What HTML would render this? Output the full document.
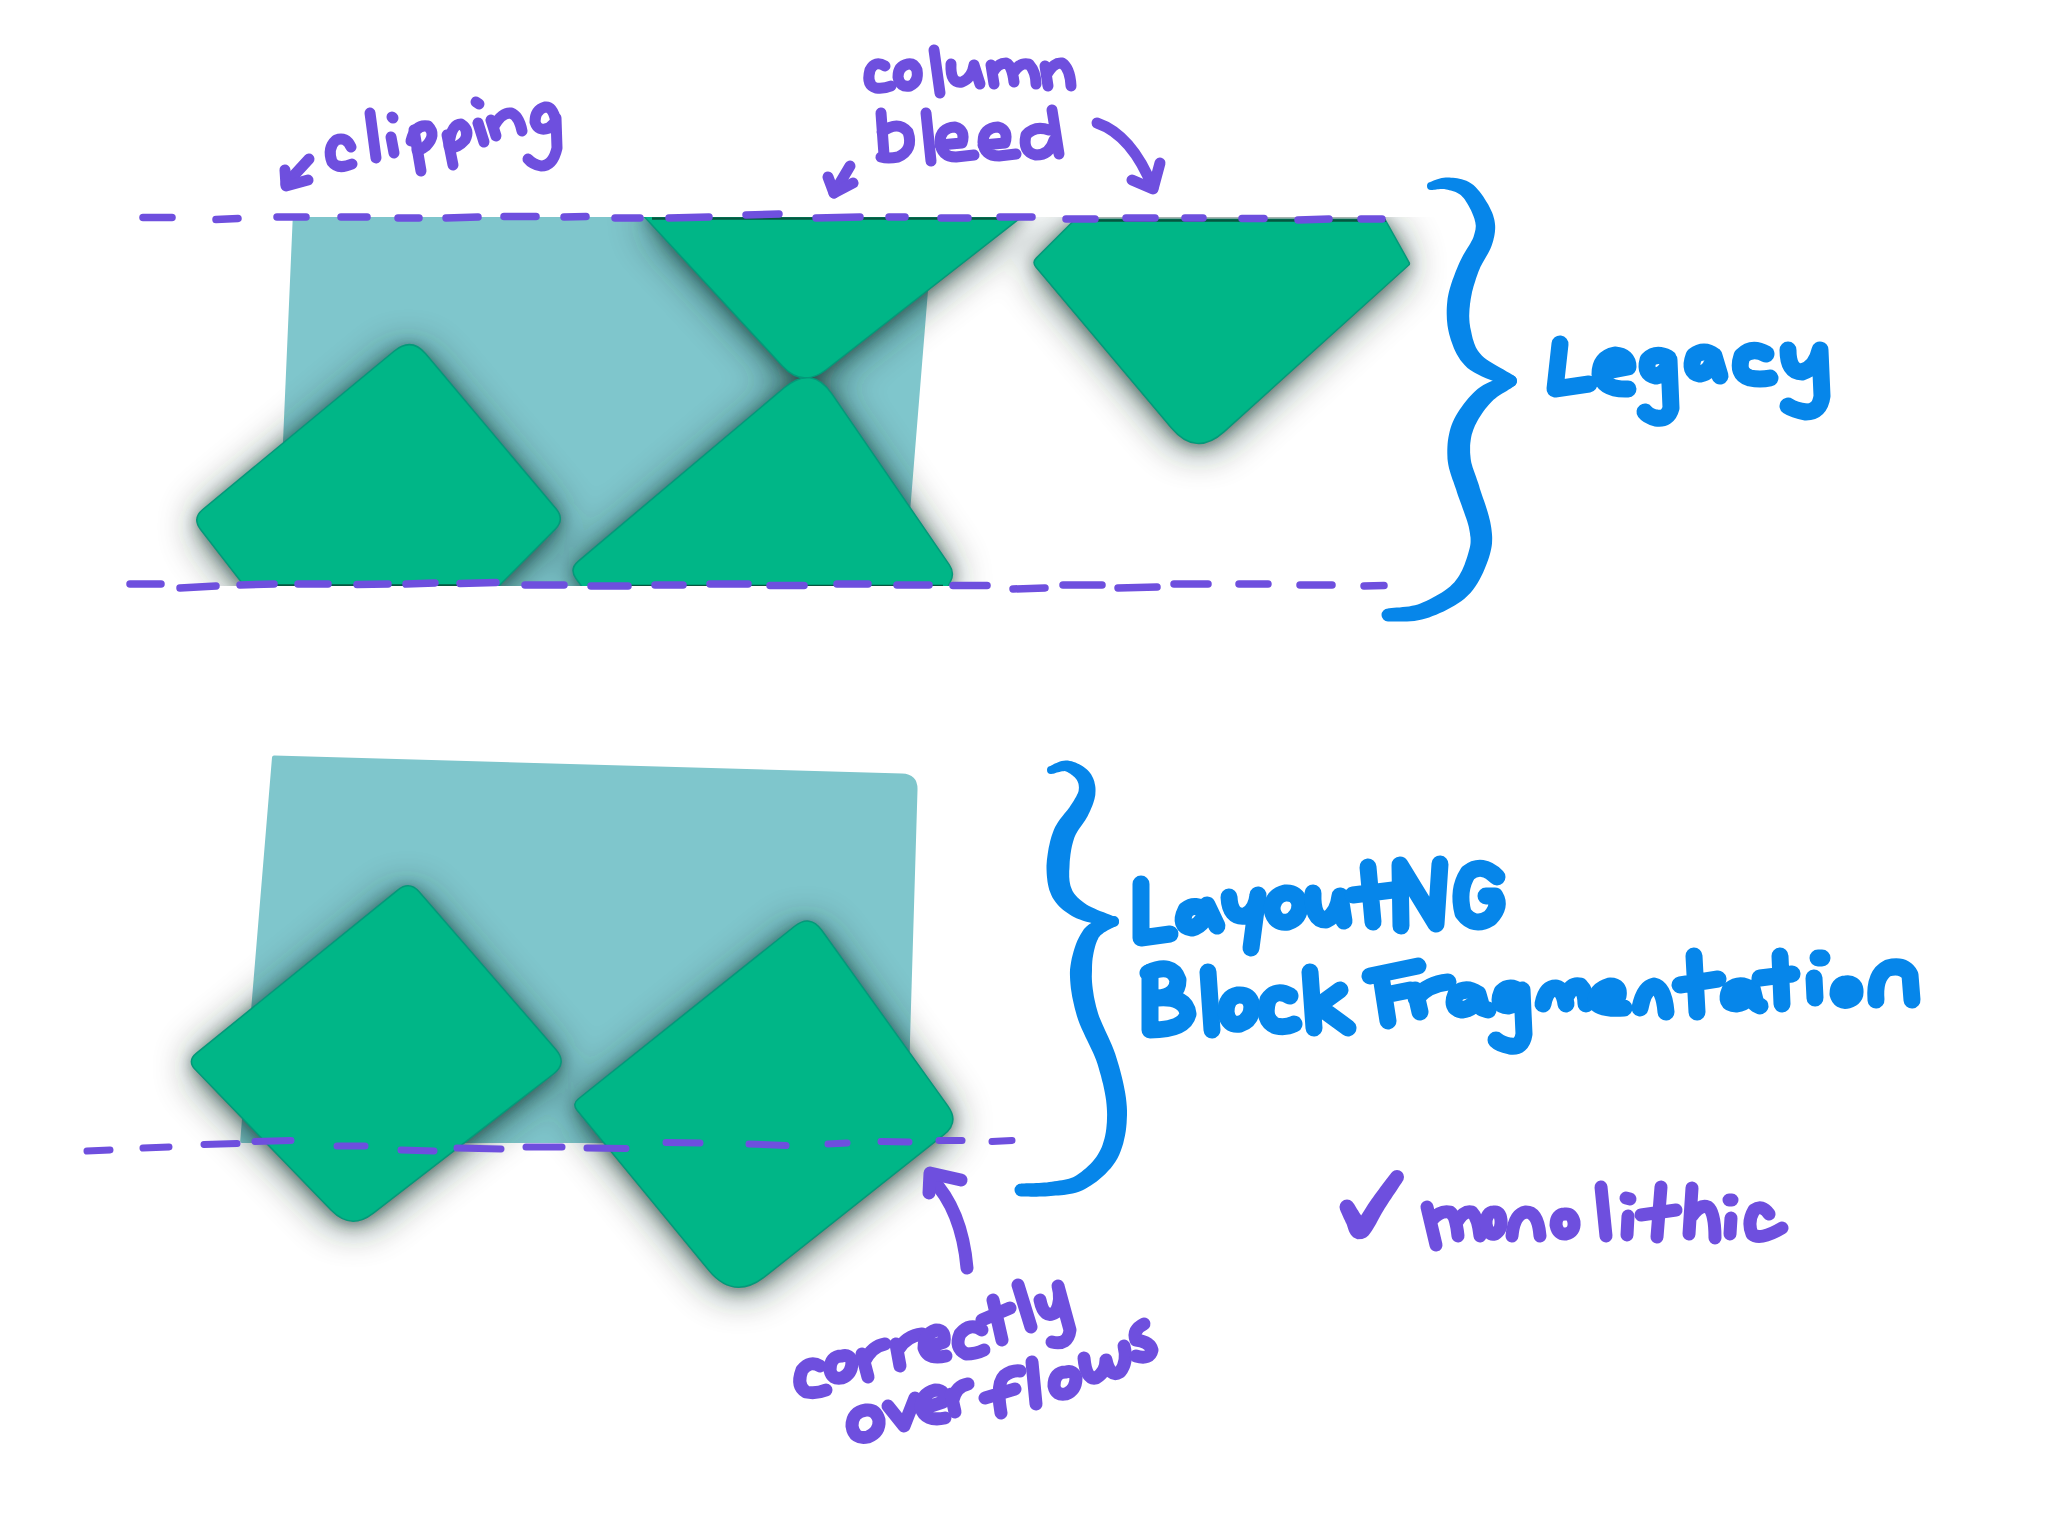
<!DOCTYPE html>
<html><head><meta charset="utf-8"><style>
html,body{margin:0;padding:0;background:#fff;}
body{width:2048px;height:1540px;overflow:hidden;font-family:"Liberation Sans",sans-serif;}
svg{display:block;}
</style></head><body>
<svg width="2048" height="1540" viewBox="0 0 2048 1540">
<defs><filter id="blur1" x="-30%" y="-30%" width="160%" height="160%"><feGaussianBlur stdDeviation="7"/><feOffset dy="2"/></filter><filter id="blur2" x="-40%" y="-40%" width="180%" height="180%"><feGaussianBlur stdDeviation="20"/><feOffset dy="5"/></filter></defs>
<path d="M292.7 219.0 Q292.8 217.0 294.8 217.0 L932.0 217.0 Q934.0 217.0 933.8 219.0 L904.2 584.0 Q904.0 586.0 902.0 586.0 L278.7 586.0 Q276.7 586.0 276.8 584.0 Z" fill="#7FC6CC"/>
<clipPath id="topclip"><rect x="0" y="217" width="2048" height="369"/></clipPath>
<g clip-path="url(#topclip)">
<g filter="url(#blur2)" fill="#0b2a24" opacity="0.7"><path d="M394.4 351.0 Q411.4 337.0 425.6 353.8 L556.0 508.8 Q565.0 519.5 555.1 529.4 L494.8 590.0 L247.5 590.0 L200.6 529.5 Q192.0 518.4 202.8 509.5 Z"/><path d="M640.0 212.0 L1028.0 212.0 L826.4 369.5 Q802.8 388.0 782.4 366.0 Z"/><path d="M784.3 387.8 Q811.8 364.6 832.2 394.3 L949.3 564.8 Q955.0 573.0 950.3 581.8 L945.0 592.0 L586.0 592.0 L576.1 578.7 Q569.0 569.0 578.2 561.3 Z"/><path d="M1075.0 219.5 L1385.0 219.5 L1409.0 262.3 Q1410.0 264.0 1408.5 265.3 L1224.2 431.6 Q1196.0 457.0 1171.5 427.9 L1035.9 266.9 Q1032.0 262.3 1036.3 258.1 Z"/></g><g filter="url(#blur1)" fill="#0b2a24" opacity="0.45"><path d="M394.4 351.0 Q411.4 337.0 425.6 353.8 L556.0 508.8 Q565.0 519.5 555.1 529.4 L494.8 590.0 L247.5 590.0 L200.6 529.5 Q192.0 518.4 202.8 509.5 Z"/><path d="M640.0 212.0 L1028.0 212.0 L826.4 369.5 Q802.8 388.0 782.4 366.0 Z"/><path d="M784.3 387.8 Q811.8 364.6 832.2 394.3 L949.3 564.8 Q955.0 573.0 950.3 581.8 L945.0 592.0 L586.0 592.0 L576.1 578.7 Q569.0 569.0 578.2 561.3 Z"/><path d="M1075.0 219.5 L1385.0 219.5 L1409.0 262.3 Q1410.0 264.0 1408.5 265.3 L1224.2 431.6 Q1196.0 457.0 1171.5 427.9 L1035.9 266.9 Q1032.0 262.3 1036.3 258.1 Z"/></g>
<g fill="#00B687" stroke="#04997a" stroke-width="1.5"><path d="M394.4 351.0 Q411.4 337.0 425.6 353.8 L556.0 508.8 Q565.0 519.5 555.1 529.4 L494.8 590.0 L247.5 590.0 L200.6 529.5 Q192.0 518.4 202.8 509.5 Z"/><path d="M640.0 212.0 L1028.0 212.0 L826.4 369.5 Q802.8 388.0 782.4 366.0 Z"/><path d="M784.3 387.8 Q811.8 364.6 832.2 394.3 L949.3 564.8 Q955.0 573.0 950.3 581.8 L945.0 592.0 L586.0 592.0 L576.1 578.7 Q569.0 569.0 578.2 561.3 Z"/><path d="M1075.0 219.5 L1385.0 219.5 L1409.0 262.3 Q1410.0 264.0 1408.5 265.3 L1224.2 431.6 Q1196.0 457.0 1171.5 427.9 L1035.9 266.9 Q1032.0 262.3 1036.3 258.1 Z"/></g>
<g stroke="#06563f" stroke-width="2.5"><line x1="652" y1="218.5" x2="1025" y2="218.5"/><line x1="1073" y1="220.5" x2="1386" y2="220.5"/><line x1="248" y1="585.5" x2="494" y2="585.5"/><line x1="590" y1="586" x2="943" y2="586"/></g>
</g>
<g stroke="#6E4FDE" stroke-width="7.5" stroke-linecap="round"><line x1="143.0" y1="217.5" x2="172.0" y2="217.5"/><line x1="216.0" y1="219.5" x2="238.0" y2="218.5"/><line x1="277.0" y1="217.0" x2="306.0" y2="217.0"/><line x1="341.0" y1="217.0" x2="367.0" y2="217.0"/><line x1="398.0" y1="218.0" x2="419.0" y2="218.0"/><line x1="446.0" y1="218.0" x2="478.0" y2="217.0"/><line x1="504.0" y1="216.5" x2="536.0" y2="216.5"/><line x1="564.0" y1="217.0" x2="586.0" y2="216.5"/><line x1="615.0" y1="218.0" x2="640.0" y2="218.0"/><line x1="669.0" y1="218.0" x2="709.0" y2="217.0"/><line x1="746.0" y1="215.0" x2="779.0" y2="214.0"/><line x1="816.0" y1="218.0" x2="860.0" y2="217.0"/><line x1="889.0" y1="217.0" x2="905.0" y2="217.0"/><line x1="941.0" y1="218.0" x2="968.0" y2="218.0"/><line x1="1000.0" y1="217.0" x2="1032.0" y2="217.0"/><line x1="1066.0" y1="219.0" x2="1095.0" y2="219.0"/><line x1="1126.0" y1="218.0" x2="1155.0" y2="218.0"/><line x1="1185.0" y1="218.0" x2="1203.0" y2="218.0"/><line x1="1242.0" y1="218.5" x2="1264.0" y2="218.5"/><line x1="1298.0" y1="220.0" x2="1329.0" y2="219.0"/><line x1="1361.0" y1="219.0" x2="1382.0" y2="219.0"/></g>
<g stroke="#6E4FDE" stroke-width="7.5" stroke-linecap="round"><line x1="130.0" y1="584.0" x2="161.0" y2="584.0"/><line x1="180.0" y1="588.0" x2="216.0" y2="586.0"/><line x1="240.0" y1="585.0" x2="274.0" y2="584.0"/><line x1="298.0" y1="584.0" x2="328.0" y2="584.0"/><line x1="357.0" y1="584.5" x2="388.0" y2="584.0"/><line x1="406.0" y1="584.0" x2="435.0" y2="583.0"/><line x1="460.0" y1="583.5" x2="496.0" y2="582.5"/><line x1="525.0" y1="585.0" x2="564.0" y2="585.0"/><line x1="591.0" y1="586.0" x2="628.0" y2="586.0"/><line x1="655.0" y1="585.0" x2="683.0" y2="585.0"/><line x1="710.0" y1="584.0" x2="748.0" y2="584.0"/><line x1="770.0" y1="585.5" x2="804.0" y2="585.5"/><line x1="837.0" y1="584.0" x2="868.0" y2="584.0"/><line x1="897.0" y1="585.0" x2="929.0" y2="585.0"/><line x1="953.0" y1="585.5" x2="987.0" y2="585.5"/><line x1="1013.0" y1="589.0" x2="1045.0" y2="588.0"/><line x1="1063.0" y1="585.0" x2="1102.0" y2="585.0"/><line x1="1118.0" y1="588.0" x2="1157.0" y2="587.0"/><line x1="1174.0" y1="584.0" x2="1208.0" y2="584.0"/><line x1="1239.0" y1="584.0" x2="1268.0" y2="584.0"/><line x1="1300.0" y1="585.0" x2="1332.0" y2="585.0"/><line x1="1364.0" y1="586.0" x2="1384.0" y2="585.5"/></g>
<path d="M272.0 757.5 Q272.2 755.5 274.2 755.6 L902.0 773.5 Q918.0 774.0 917.5 790.0 L910.0 1040.0 L908.0 1141.0 Q908.0 1143.0 906.0 1143.0 L242.0 1143.0 Q240.0 1143.0 240.2 1141.0 Z" fill="#7FC6CC"/>
<g filter="url(#blur2)" fill="#0b2a24" opacity="0.7"><path d="M397.8 890.1 Q409.5 880.7 419.3 892.0 L555.8 1049.4 Q567.6 1063.0 553.4 1074.0 L373.0 1213.3 Q350.8 1230.4 331.3 1210.3 L195.3 1069.6 Q187.0 1061.0 196.3 1053.4 Z"/><path d="M794.4 926.5 Q810.0 914.0 821.7 930.2 L947.9 1106.1 Q959.6 1122.3 943.9 1134.7 L765.4 1276.2 Q734.0 1301.0 708.6 1270.1 L577.1 1110.2 Q572.0 1104.0 578.3 1099.0 Z"/></g><g filter="url(#blur1)" fill="#0b2a24" opacity="0.45"><path d="M397.8 890.1 Q409.5 880.7 419.3 892.0 L555.8 1049.4 Q567.6 1063.0 553.4 1074.0 L373.0 1213.3 Q350.8 1230.4 331.3 1210.3 L195.3 1069.6 Q187.0 1061.0 196.3 1053.4 Z"/><path d="M794.4 926.5 Q810.0 914.0 821.7 930.2 L947.9 1106.1 Q959.6 1122.3 943.9 1134.7 L765.4 1276.2 Q734.0 1301.0 708.6 1270.1 L577.1 1110.2 Q572.0 1104.0 578.3 1099.0 Z"/></g>
<g fill="#00B687" stroke="#04997a" stroke-width="1.5"><path d="M397.8 890.1 Q409.5 880.7 419.3 892.0 L555.8 1049.4 Q567.6 1063.0 553.4 1074.0 L373.0 1213.3 Q350.8 1230.4 331.3 1210.3 L195.3 1069.6 Q187.0 1061.0 196.3 1053.4 Z"/><path d="M794.4 926.5 Q810.0 914.0 821.7 930.2 L947.9 1106.1 Q959.6 1122.3 943.9 1134.7 L765.4 1276.2 Q734.0 1301.0 708.6 1270.1 L577.1 1110.2 Q572.0 1104.0 578.3 1099.0 Z"/></g>
<g stroke="#6E4FDE" stroke-width="7" stroke-linecap="round"><line x1="87.0" y1="1151.0" x2="110.0" y2="1150.0"/><line x1="143.0" y1="1148.0" x2="169.0" y2="1147.0"/><line x1="204.0" y1="1144.5" x2="237.0" y2="1143.5"/><line x1="255.0" y1="1141.5" x2="291.0" y2="1140.5"/><line x1="337.0" y1="1146.0" x2="365.0" y2="1146.0"/><line x1="401.0" y1="1150.0" x2="434.0" y2="1151.0"/><line x1="457.0" y1="1148.0" x2="501.0" y2="1149.0"/><line x1="526.0" y1="1147.0" x2="562.0" y2="1147.0"/><line x1="587.0" y1="1148.0" x2="626.0" y2="1148.5"/><line x1="666.0" y1="1142.5" x2="700.0" y2="1143.0"/><line x1="749.0" y1="1144.0" x2="786.0" y2="1145.5"/><line x1="828.0" y1="1144.0" x2="847.0" y2="1143.0"/><line x1="881.0" y1="1141.5" x2="909.0" y2="1142.0"/><line x1="939.0" y1="1140.5" x2="962.0" y2="1140.5"/><line x1="992.0" y1="1141.5" x2="1012.0" y2="1140.5"/></g>
<g fill="none" stroke="#6E4FDE" stroke-width="11" stroke-linecap="round" stroke-linejoin="round"><path d="M309 159 L286 184"/><path d="M285 170 L286 186 L308 180"/><path d="M351 147 Q346 136 336 140 Q327 148 332 162 Q338 170 352 164"/><path d="M370 113 L376 158"/><path d="M392 117 L393 118"/><path d="M391 137 L394 153"/><path d="M414 130 L421 171"/><path d="M411 141 Q415 124 428 126 Q437 135 426 146 Q421 150 417 150"/><path d="M447 135 L453 165"/><path d="M449 146 Q451 124 461 124 Q470 130 465 140 Q458 148 450 148"/><path d="M476 102 L479 104"/><path d="M478 123 L484 142"/><path d="M491 120 L496 136"/><path d="M494 126 Q502 112 511 113 Q519 116 522 131"/><path d="M556 122 Q553 106 545 107 Q535 110 535 122 Q538 132 549 128 Q556 122 556 118 L557 148 Q553 166 541 166 Q532 164 528 159"/></g>
<g fill="none" stroke="#6E4FDE" stroke-width="11" stroke-linecap="round" stroke-linejoin="round"><path d="M885 66 Q875 60 870 70 Q866 85 876 88 Q884 89 891 86"/><path d="M908 64 Q898 66 898 77 Q900 88 910 86 Q919 82 917 70 Q914 63 908 64"/><path d="M934 50 L940 93"/><path d="M951 64 Q950 84 962 82 Q972 78 974 65 L980 84"/><path d="M991 65 L994 84 M993 72 Q998 63 1006 63 Q1012 65 1014 82 M1014 72 Q1020 62 1029 64 Q1036 72 1036 84"/><path d="M1045 66 L1048 86 M1047 74 Q1054 62 1062 63 Q1070 68 1071 86"/><path d="M881 113 L884 155 M882 132 Q898 120 908 132 Q914 150 898 157 Q888 159 881 157"/><path d="M926 113 L931 161"/><path d="M940 145 L962 143 Q966 130 955 127 Q940 128 940 142 Q941 157 956 157 L974 155"/><path d="M983 145 L1005 143 Q1009 130 998 127 Q983 128 983 142 Q984 156 999 156 L1016 154"/><path d="M1049 130 Q1035 125 1026 135 Q1022 152 1036 155 Q1050 155 1054 140 M1052 110 L1059 154"/><path d="M850 166 L834 193"/><path d="M828 177 L834 193 L853 183"/><path d="M1097 123 Q1132 135 1153 188"/><path d="M1132 180 L1153 189 L1160 163"/></g>
<g fill="none" stroke="#0686EA" stroke-width="17" stroke-linecap="round" stroke-linejoin="round"><path d="M1560 344 L1555 389 L1589 384"/><path d="M1602 372 L1628 367 Q1628 356 1615 355 Q1600 358 1600 374 Q1604 390 1628 389"/><path d="M1668 358 Q1656 352 1648 360 Q1644 374 1656 376 Q1668 374 1669 360 L1671 408 Q1668 420 1656 418 Q1648 416 1645 412"/><path d="M1714 356 Q1704 348 1694 356 Q1688 372 1700 374 Q1712 372 1714 356 L1720 376"/><path d="M1766 354 Q1752 346 1742 356 Q1736 374 1750 378 Q1760 380 1770 378"/><path d="M1788 350 Q1788 372 1802 372 Q1816 368 1820 350 L1822 396 Q1820 412 1806 412 Q1794 410 1788 406"/></g>
<path d="M1431.8 189.9 L1432.7 189.9 L1433.8 189.8 L1435.0 189.7 L1436.2 189.5 L1437.5 189.3 L1438.8 189.2 L1440.2 189.0 L1441.5 189.0 L1442.8 189.0 L1444.1 189.0 L1445.2 189.2 L1446.3 189.5 L1447.8 189.8 L1449.3 190.2 L1450.9 190.6 L1452.5 191.1 L1454.1 191.6 L1455.6 192.1 L1457.0 192.8 L1458.3 193.4 L1459.6 194.2 L1460.7 195.0 L1461.7 195.9 L1462.6 196.9 L1463.6 198.1 L1464.8 199.6 L1466.0 201.5 L1467.3 203.5 L1468.6 205.7 L1469.8 208.0 L1471.0 210.3 L1472.1 212.7 L1473.0 215.0 L1473.8 217.1 L1474.5 219.1 L1474.9 220.8 L1475.3 222.3 L1475.5 223.7 L1475.7 224.9 L1475.8 226.1 L1475.7 227.2 L1475.6 228.3 L1475.5 229.5 L1475.2 230.7 L1474.9 232.1 L1474.5 233.6 L1474.0 235.3 L1473.5 236.9 L1472.9 238.4 L1472.2 239.9 L1471.3 241.6 L1470.3 243.4 L1469.1 245.4 L1467.8 247.6 L1466.4 249.8 L1464.9 252.2 L1463.4 254.7 L1462.0 257.4 L1460.6 260.2 L1459.3 263.0 L1458.1 265.7 L1457.0 268.4 L1455.9 271.1 L1454.8 274.0 L1453.7 276.9 L1452.6 279.8 L1451.6 282.8 L1450.6 285.9 L1449.7 289.0 L1448.9 292.1 L1448.2 295.3 L1447.6 298.4 L1447.3 301.4 L1447.0 304.4 L1446.8 307.4 L1446.7 310.4 L1446.7 313.5 L1446.8 316.5 L1446.9 319.6 L1447.2 322.6 L1447.5 325.6 L1448.0 328.6 L1448.6 331.6 L1449.3 334.5 L1450.1 337.3 L1450.9 340.0 L1451.9 342.7 L1452.9 345.6 L1454.0 348.4 L1455.3 351.3 L1456.8 354.2 L1458.5 357.1 L1460.3 359.9 L1462.4 362.6 L1464.8 365.3 L1467.5 367.9 L1470.7 370.3 L1474.3 372.5 L1478.1 374.5 L1482.0 376.4 L1486.0 378.2 L1490.0 379.8 L1493.9 381.3 L1497.6 382.7 L1501.0 383.9 L1504.0 384.9 L1506.4 385.7 L1508.3 386.4 L1513.7 375.6 L1511.9 374.4 L1509.5 372.9 L1506.6 371.4 L1503.5 369.6 L1500.2 367.8 L1496.7 365.8 L1493.3 363.8 L1490.0 361.7 L1486.9 359.7 L1484.2 357.7 L1482.0 355.8 L1480.5 354.1 L1479.2 352.5 L1477.9 350.8 L1476.8 349.0 L1475.8 347.2 L1475.0 345.2 L1474.2 343.2 L1473.5 341.1 L1472.8 338.9 L1472.2 336.6 L1471.7 334.3 L1471.2 331.8 L1470.7 329.5 L1470.2 327.2 L1469.9 325.1 L1469.6 322.9 L1469.4 320.6 L1469.3 318.3 L1469.2 316.0 L1469.3 313.6 L1469.4 311.3 L1469.5 308.9 L1469.8 306.4 L1470.0 304.0 L1470.4 301.6 L1470.7 299.3 L1471.1 296.9 L1471.6 294.4 L1472.1 291.8 L1472.8 289.2 L1473.5 286.5 L1474.3 283.9 L1475.2 281.2 L1476.0 278.6 L1476.9 276.0 L1477.8 273.4 L1478.7 271.0 L1479.6 268.9 L1480.5 266.8 L1481.6 264.7 L1482.8 262.5 L1484.1 260.3 L1485.4 258.1 L1486.7 255.8 L1488.0 253.4 L1489.3 250.9 L1490.5 248.4 L1491.6 245.7 L1492.5 243.1 L1493.2 240.7 L1493.7 238.6 L1494.2 236.4 L1494.6 234.2 L1494.9 232.0 L1495.1 229.7 L1495.2 227.4 L1495.1 225.0 L1494.8 222.6 L1494.4 220.1 L1493.8 217.7 L1493.1 215.2 L1492.1 212.6 L1490.9 210.0 L1489.6 207.3 L1488.2 204.6 L1486.6 201.9 L1484.9 199.2 L1483.2 196.5 L1481.4 194.0 L1479.5 191.5 L1477.5 189.2 L1475.5 187.1 L1473.4 185.1 L1471.2 183.4 L1468.8 182.0 L1466.4 180.8 L1464.0 179.9 L1461.7 179.2 L1459.4 178.7 L1457.2 178.3 L1455.1 178.0 L1453.1 177.8 L1451.2 177.7 L1449.4 177.6 L1447.7 177.5 L1445.7 177.5 L1443.7 177.7 L1441.7 178.0 L1439.9 178.4 L1438.2 178.9 L1436.6 179.4 L1435.1 179.9 L1433.7 180.5 L1432.6 181.0 L1431.6 181.4 L1430.8 181.8 L1430.2 182.1 Z M1427.0 186.0 a4.0 4.0 0 1 0 8.0 0 a4.0 4.0 0 1 0 -8.0 0 M1505.0 381.0 a6.0 6.0 0 1 0 12.0 0 a6.0 6.0 0 1 0 -12.0 0" fill="#0686EA" fill-rule="nonzero"/>
<path d="M1508.3 375.7 L1506.9 376.0 L1505.3 376.5 L1503.2 377.1 L1500.8 377.8 L1498.2 378.7 L1495.4 379.6 L1492.5 380.8 L1489.5 382.1 L1486.4 383.5 L1483.4 385.1 L1480.4 387.0 L1477.6 389.0 L1475.1 391.2 L1472.8 393.5 L1470.4 396.0 L1468.1 398.6 L1465.9 401.2 L1463.7 404.0 L1461.6 406.9 L1459.6 409.8 L1457.7 412.8 L1455.9 415.8 L1454.3 418.8 L1452.8 421.9 L1451.6 425.0 L1450.6 428.1 L1449.7 431.3 L1449.0 434.4 L1448.4 437.6 L1447.9 440.7 L1447.6 443.8 L1447.4 446.9 L1447.3 450.0 L1447.3 453.0 L1447.4 456.0 L1447.5 459.0 L1447.9 462.2 L1448.4 465.3 L1449.1 468.4 L1449.9 471.3 L1450.7 474.1 L1451.6 476.8 L1452.5 479.5 L1453.5 482.1 L1454.4 484.7 L1455.3 487.2 L1456.2 489.8 L1457.0 492.5 L1458.0 495.5 L1459.2 498.7 L1460.4 502.0 L1461.6 505.3 L1462.8 508.7 L1464.0 511.9 L1465.1 515.2 L1466.2 518.3 L1467.2 521.3 L1468.0 524.0 L1468.7 526.6 L1469.2 529.0 L1469.6 531.3 L1470.0 533.5 L1470.2 535.5 L1470.5 537.3 L1470.6 538.9 L1470.6 540.5 L1470.6 542.0 L1470.5 543.5 L1470.3 545.1 L1470.0 546.8 L1469.5 548.8 L1468.9 551.0 L1468.2 553.5 L1467.4 556.2 L1466.5 559.0 L1465.5 561.8 L1464.5 564.7 L1463.3 567.6 L1462.0 570.4 L1460.6 573.1 L1459.1 575.7 L1457.6 578.1 L1455.9 580.3 L1454.2 582.4 L1452.3 584.3 L1450.1 586.4 L1447.5 588.4 L1444.8 590.4 L1441.9 592.4 L1438.8 594.3 L1435.7 596.1 L1432.5 597.8 L1429.3 599.4 L1426.2 600.9 L1423.2 602.3 L1420.4 603.4 L1417.8 604.4 L1415.0 605.2 L1412.0 605.8 L1409.0 606.4 L1405.8 606.8 L1402.7 607.1 L1399.7 607.4 L1396.7 607.6 L1394.0 607.8 L1391.5 608.0 L1389.3 608.3 L1387.5 608.5 L1388.5 621.5 L1390.1 621.5 L1392.0 621.5 L1394.4 621.6 L1397.2 621.6 L1400.2 621.6 L1403.6 621.6 L1407.0 621.5 L1410.7 621.3 L1414.4 620.9 L1418.2 620.3 L1421.9 619.6 L1425.6 618.6 L1429.1 617.4 L1432.6 616.1 L1436.2 614.7 L1439.9 613.1 L1443.6 611.4 L1447.3 609.6 L1451.0 607.6 L1454.6 605.5 L1458.1 603.3 L1461.5 600.9 L1464.7 598.4 L1467.8 595.6 L1470.6 592.7 L1473.2 589.5 L1475.5 586.3 L1477.6 582.9 L1479.6 579.5 L1481.4 576.1 L1483.0 572.7 L1484.5 569.3 L1485.8 566.0 L1487.0 562.9 L1488.1 559.9 L1489.1 557.0 L1489.9 554.2 L1490.6 551.5 L1491.2 548.8 L1491.7 546.1 L1492.0 543.5 L1492.1 540.9 L1492.2 538.3 L1492.1 535.8 L1491.9 533.2 L1491.6 530.6 L1491.3 527.9 L1490.8 525.0 L1490.2 521.8 L1489.4 518.4 L1488.5 515.0 L1487.5 511.5 L1486.4 508.0 L1485.3 504.6 L1484.1 501.1 L1482.9 497.8 L1481.8 494.5 L1480.8 491.4 L1479.8 488.4 L1479.0 485.5 L1478.0 482.6 L1477.0 479.7 L1476.1 476.9 L1475.1 474.3 L1474.2 471.8 L1473.4 469.4 L1472.6 467.2 L1472.0 465.0 L1471.4 462.9 L1471.0 461.0 L1470.7 459.0 L1470.5 457.0 L1470.3 454.8 L1470.1 452.4 L1470.1 450.1 L1470.1 447.7 L1470.1 445.4 L1470.3 443.2 L1470.6 440.9 L1470.9 438.7 L1471.3 436.5 L1471.8 434.3 L1472.5 432.2 L1473.2 430.1 L1474.0 427.9 L1475.0 425.6 L1476.2 423.3 L1477.5 420.8 L1478.9 418.3 L1480.4 415.9 L1482.0 413.4 L1483.7 411.1 L1485.4 408.8 L1487.1 406.7 L1488.8 404.7 L1490.4 403.0 L1491.8 401.4 L1493.5 399.8 L1495.5 398.2 L1497.6 396.6 L1499.9 395.1 L1502.2 393.6 L1504.5 392.2 L1506.7 390.9 L1508.8 389.6 L1510.7 388.5 L1512.4 387.3 L1513.7 386.3 Z M1505.0 381.0 a6.0 6.0 0 1 0 12.0 0 a6.0 6.0 0 1 0 -12.0 0 M1381.5 615.0 a6.5 6.5 0 1 0 13.0 0 a6.5 6.5 0 1 0 -13.0 0" fill="#0686EA" fill-rule="nonzero"/>
<path d="M1052.2 773.8 L1053.1 773.7 L1054.3 773.4 L1055.5 773.0 L1056.8 772.6 L1058.2 772.2 L1059.5 771.9 L1060.9 771.5 L1062.3 771.3 L1063.5 771.2 L1064.6 771.1 L1065.4 771.2 L1066.1 771.4 L1066.8 771.8 L1067.8 772.3 L1068.9 772.9 L1070.0 773.6 L1071.2 774.4 L1072.3 775.3 L1073.4 776.2 L1074.4 777.1 L1075.3 778.1 L1076.1 779.0 L1076.7 779.8 L1077.1 780.6 L1077.5 781.3 L1077.8 782.0 L1078.1 782.8 L1078.4 783.6 L1078.6 784.5 L1078.7 785.3 L1078.8 786.2 L1078.9 787.2 L1078.9 788.1 L1078.8 789.1 L1078.7 790.1 L1078.6 791.0 L1078.3 791.9 L1078.0 792.8 L1077.6 793.8 L1077.0 794.8 L1076.5 796.0 L1075.8 797.2 L1075.0 798.5 L1074.2 799.9 L1073.3 801.4 L1072.3 802.9 L1071.3 804.5 L1070.3 806.0 L1069.4 807.4 L1068.4 808.7 L1067.3 810.2 L1066.0 811.8 L1064.5 813.5 L1063.0 815.4 L1061.4 817.4 L1059.8 819.5 L1058.1 821.9 L1056.6 824.4 L1055.1 827.1 L1053.8 830.0 L1052.7 832.9 L1051.7 835.7 L1050.9 838.6 L1050.1 841.6 L1049.4 844.7 L1048.7 847.7 L1048.2 850.8 L1047.7 853.9 L1047.3 856.9 L1046.9 859.9 L1046.7 862.8 L1046.5 865.6 L1046.5 868.3 L1046.6 870.9 L1046.7 873.6 L1046.9 876.3 L1047.2 879.0 L1047.5 881.7 L1048.0 884.4 L1048.6 887.2 L1049.3 889.9 L1050.3 892.5 L1051.4 895.2 L1052.6 897.7 L1054.1 900.1 L1055.7 902.3 L1057.5 904.4 L1059.3 906.4 L1061.2 908.2 L1063.2 910.0 L1065.3 911.6 L1067.5 913.1 L1069.7 914.6 L1072.0 915.9 L1074.4 917.2 L1077.0 918.5 L1079.9 919.6 L1083.1 920.7 L1086.4 921.7 L1089.9 922.5 L1093.3 923.4 L1096.8 924.1 L1100.1 924.8 L1103.3 925.3 L1106.2 925.8 L1108.7 926.3 L1110.9 926.6 L1112.5 926.8 L1115.5 917.2 L1113.9 916.4 L1111.8 915.5 L1109.3 914.5 L1106.6 913.5 L1103.7 912.3 L1100.6 911.2 L1097.5 909.9 L1094.5 908.6 L1091.6 907.3 L1089.0 906.0 L1086.8 904.8 L1085.0 903.5 L1083.3 902.3 L1081.7 901.1 L1080.1 899.8 L1078.7 898.6 L1077.3 897.3 L1076.2 896.0 L1075.1 894.8 L1074.1 893.5 L1073.3 892.2 L1072.5 890.9 L1071.9 889.6 L1071.4 888.3 L1070.9 887.0 L1070.4 885.6 L1070.1 884.1 L1069.8 882.6 L1069.5 880.8 L1069.4 879.0 L1069.2 877.1 L1069.2 875.1 L1069.2 873.0 L1069.2 870.9 L1069.4 868.7 L1069.5 866.4 L1069.6 864.2 L1069.7 861.8 L1069.9 859.4 L1070.2 856.9 L1070.5 854.3 L1070.9 851.8 L1071.3 849.2 L1071.8 846.7 L1072.4 844.3 L1073.0 842.0 L1073.6 839.9 L1074.2 838.0 L1074.8 836.4 L1075.6 834.8 L1076.4 833.2 L1077.4 831.5 L1078.5 829.8 L1079.7 828.0 L1081.0 826.2 L1082.4 824.3 L1083.8 822.3 L1085.2 820.3 L1086.5 818.1 L1087.7 816.0 L1088.6 814.0 L1089.5 812.2 L1090.3 810.4 L1091.1 808.6 L1091.9 806.8 L1092.6 804.9 L1093.3 803.0 L1093.9 801.1 L1094.5 799.1 L1094.9 797.1 L1095.3 795.1 L1095.4 793.0 L1095.5 791.0 L1095.5 789.1 L1095.4 787.2 L1095.1 785.3 L1094.7 783.4 L1094.3 781.5 L1093.7 779.7 L1093.0 777.9 L1092.1 776.2 L1091.2 774.6 L1090.1 773.0 L1088.9 771.4 L1087.5 770.0 L1086.0 768.7 L1084.4 767.4 L1082.7 766.3 L1081.0 765.2 L1079.2 764.2 L1077.4 763.4 L1075.5 762.6 L1073.7 761.9 L1071.8 761.3 L1069.9 760.9 L1067.9 760.6 L1065.8 760.5 L1063.7 760.7 L1061.7 761.1 L1059.9 761.6 L1058.1 762.2 L1056.5 762.9 L1054.9 763.6 L1053.5 764.3 L1052.3 764.9 L1051.2 765.4 L1050.4 765.9 L1049.8 766.2 Z M1047.0 770.0 a4.0 4.0 0 1 0 8.0 0 a4.0 4.0 0 1 0 -8.0 0 M1109.0 922.0 a5.0 5.0 0 1 0 10.0 0 a5.0 5.0 0 1 0 -10.0 0" fill="#0686EA" fill-rule="nonzero"/>
<path d="M1111.8 916.5 L1110.7 916.7 L1109.4 916.9 L1107.6 917.3 L1105.4 917.7 L1103.0 918.3 L1100.5 919.1 L1097.7 920.0 L1094.9 921.1 L1092.1 922.5 L1089.2 924.3 L1086.5 926.5 L1084.0 929.1 L1082.1 931.9 L1080.4 934.7 L1078.8 937.7 L1077.3 940.8 L1076.0 944.1 L1074.8 947.6 L1073.7 951.1 L1072.7 954.7 L1071.8 958.3 L1071.1 962.0 L1070.5 965.7 L1070.0 969.4 L1069.9 973.2 L1070.0 976.9 L1070.2 980.7 L1070.5 984.6 L1070.9 988.4 L1071.5 992.3 L1072.1 996.2 L1072.9 1000.1 L1073.8 1004.0 L1074.7 1008.0 L1075.8 1011.9 L1076.9 1016.0 L1078.3 1020.2 L1079.9 1024.5 L1081.7 1028.7 L1083.6 1032.8 L1085.5 1036.9 L1087.5 1041.0 L1089.4 1044.9 L1091.3 1048.9 L1093.1 1052.8 L1094.7 1056.6 L1096.2 1060.3 L1097.5 1064.0 L1098.7 1068.0 L1099.8 1072.0 L1101.0 1076.1 L1102.0 1080.2 L1103.1 1084.3 L1104.0 1088.4 L1104.8 1092.4 L1105.5 1096.4 L1106.1 1100.3 L1106.5 1104.1 L1106.8 1107.7 L1107.0 1111.3 L1107.1 1114.8 L1107.0 1118.4 L1106.9 1121.9 L1106.6 1125.4 L1106.3 1128.8 L1105.8 1132.2 L1105.2 1135.4 L1104.5 1138.6 L1103.6 1141.6 L1102.7 1144.5 L1101.7 1147.2 L1100.5 1149.7 L1099.3 1152.1 L1097.9 1154.5 L1096.3 1156.9 L1094.5 1159.3 L1092.5 1161.7 L1090.4 1163.9 L1088.2 1166.1 L1085.9 1168.2 L1083.6 1170.1 L1081.3 1172.0 L1079.1 1173.6 L1077.0 1175.1 L1075.0 1176.2 L1073.1 1177.2 L1071.0 1178.0 L1068.9 1178.7 L1066.7 1179.3 L1064.4 1179.8 L1061.9 1180.2 L1059.5 1180.6 L1056.9 1181.0 L1054.4 1181.3 L1051.7 1181.7 L1049.2 1182.0 L1046.7 1182.4 L1044.2 1182.6 L1041.6 1182.8 L1038.9 1183.0 L1036.2 1183.1 L1033.5 1183.2 L1030.9 1183.2 L1028.4 1183.3 L1026.2 1183.3 L1024.1 1183.4 L1022.3 1183.4 L1020.9 1183.5 L1021.1 1196.5 L1022.5 1196.5 L1024.1 1196.5 L1026.2 1196.6 L1028.4 1196.6 L1031.0 1196.7 L1033.6 1196.7 L1036.5 1196.7 L1039.4 1196.6 L1042.3 1196.6 L1045.2 1196.4 L1048.1 1196.2 L1050.8 1196.0 L1053.3 1195.7 L1055.8 1195.6 L1058.4 1195.4 L1061.1 1195.2 L1063.9 1194.9 L1066.8 1194.6 L1069.7 1194.1 L1072.7 1193.5 L1075.8 1192.7 L1078.9 1191.7 L1082.0 1190.5 L1085.0 1188.9 L1087.9 1187.3 L1090.8 1185.5 L1093.7 1183.5 L1096.7 1181.4 L1099.6 1179.1 L1102.5 1176.6 L1105.3 1173.9 L1108.0 1171.1 L1110.7 1168.2 L1113.1 1165.1 L1115.4 1161.8 L1117.5 1158.3 L1119.2 1154.8 L1120.7 1151.1 L1122.0 1147.3 L1123.2 1143.5 L1124.1 1139.6 L1125.0 1135.6 L1125.7 1131.5 L1126.2 1127.4 L1126.6 1123.3 L1126.8 1119.1 L1127.0 1115.0 L1127.0 1110.7 L1126.8 1106.4 L1126.4 1102.0 L1125.9 1097.6 L1125.2 1093.1 L1124.4 1088.7 L1123.5 1084.2 L1122.5 1079.8 L1121.4 1075.3 L1120.3 1070.9 L1119.1 1066.6 L1117.8 1062.3 L1116.5 1058.0 L1115.1 1053.5 L1113.4 1049.1 L1111.7 1044.7 L1109.8 1040.5 L1107.9 1036.3 L1106.0 1032.2 L1104.2 1028.2 L1102.4 1024.3 L1100.8 1020.5 L1099.3 1016.9 L1098.1 1013.4 L1097.1 1010.0 L1096.1 1006.5 L1095.3 1003.0 L1094.5 999.5 L1093.8 996.0 L1093.3 992.6 L1092.8 989.2 L1092.4 985.9 L1092.1 982.7 L1091.9 979.5 L1091.8 976.5 L1091.9 973.5 L1092.0 970.6 L1092.0 967.6 L1092.1 964.6 L1092.3 961.6 L1092.6 958.6 L1093.1 955.6 L1093.6 952.7 L1094.2 949.9 L1094.9 947.2 L1095.6 944.7 L1096.4 942.5 L1097.2 940.5 L1098.0 938.9 L1098.6 937.6 L1099.5 936.4 L1100.7 935.1 L1102.2 933.9 L1103.9 932.6 L1105.8 931.4 L1107.7 930.3 L1109.7 929.3 L1111.6 928.3 L1113.3 927.4 L1114.9 926.4 L1116.2 925.5 Z M1109.0 921.0 a5.0 5.0 0 1 0 10.0 0 a5.0 5.0 0 1 0 -10.0 0 M1014.5 1190.0 a6.5 6.5 0 1 0 13.0 0 a6.5 6.5 0 1 0 -13.0 0" fill="#0686EA" fill-rule="nonzero"/>
<g fill="none" stroke="#0686EA" stroke-width="17" stroke-linecap="round" stroke-linejoin="round"><path d="M1141 884 L1141 938 L1170 934"/><path d="M1205 912 Q1196 902 1186 910 Q1178 926 1192 928 Q1206 924 1207 905 L1217 926"/><path d="M1229 897 Q1230 918 1245 916 Q1256 912 1258 895 L1251 948"/><path d="M1285 893 Q1272 896 1272 910 Q1275 924 1288 922 Q1300 918 1300 904 Q1297 892 1285 893"/><path d="M1313 893 Q1312 920 1326 920 Q1338 914 1340 896 L1344 921"/><path d="M1368 867 L1373 922 M1353 895 L1393 890"/><path d="M1401 926 L1400 865 L1436 924 L1440 864"/><path d="M1497 877 Q1482 862 1468 873 Q1457 890 1463 913 Q1474 928 1490 918 Q1501 906 1495 896 L1486 896"/></g>
<g fill="none" stroke="#0686EA" stroke-width="17" stroke-linecap="round" stroke-linejoin="round"><path d="M1150 972 L1150 1030 M1148 973 Q1172 962 1178 980 Q1178 996 1158 998 Q1186 996 1188 1014 Q1184 1030 1150 1030"/><path d="M1208 972 L1212 1030"/><path d="M1238 995 Q1226 997 1226 1012 Q1228 1026 1240 1024 Q1252 1020 1252 1006 Q1250 994 1238 995"/><path d="M1290 996 Q1276 988 1268 1000 Q1262 1020 1276 1026 Q1286 1028 1294 1024"/><path d="M1310 972 L1314 1028 M1340 990 L1318 1006 L1348 1028"/><path d="M1370 976 L1418 966 M1381 976 L1388 1021 M1385 995 L1410 990"/><path d="M1415 990 L1420 1012 M1416 998 Q1428 984 1448 982"/><path d="M1478 994 Q1466 986 1456 994 Q1450 1008 1462 1010 Q1476 1008 1478 994 L1482 1008 L1488 1010"/><path d="M1520 992 Q1510 984 1502 992 Q1496 1006 1508 1006 Q1520 1004 1522 990 L1524 1034 Q1522 1048 1510 1046 Q1500 1044 1496 1040"/><path d="M1543 1004 Q1546 988 1556 988 Q1564 990 1566 1004 M1566 996 Q1572 984 1580 986 Q1586 992 1586 1004"/><path d="M1598 1000 L1618 996 Q1620 986 1610 986 Q1596 990 1596 1002 Q1600 1010 1624 1008"/><path d="M1640 1008 Q1644 988 1654 986 Q1664 988 1666 1012"/><path d="M1694 956 L1697 1012 M1680 985 L1718 979"/><path d="M1752 990 Q1740 982 1730 990 Q1724 1004 1736 1004 Q1750 1002 1752 988 L1756 1004 L1760 1006"/><path d="M1780 956 L1782 1004 M1760 978 L1792 974"/><path d="M1818 958 L1822 958 M1814 978 L1815 998"/><path d="M1846 984 Q1838 984 1838 994 Q1840 1002 1848 1000 Q1856 998 1855 990 Q1854 983 1846 984"/><path d="M1876 1000 Q1874 975 1888 968 Q1904 964 1910 975 L1912 1000"/></g>
<path d="M1340.4 1210.5 L1340.6 1211.2 L1341.0 1212.0 L1341.4 1213.0 L1341.9 1214.1 L1342.4 1215.3 L1343.0 1216.6 L1343.6 1217.9 L1344.2 1219.3 L1344.9 1220.6 L1345.5 1221.9 L1346.1 1223.2 L1346.6 1224.1 L1346.8 1224.7 L1347.0 1225.3 L1347.4 1226.4 L1347.8 1227.7 L1348.2 1229.1 L1348.8 1230.8 L1349.6 1232.6 L1350.9 1234.7 L1353.2 1237.2 L1357.3 1239.2 L1362.3 1239.1 L1366.0 1237.5 L1368.4 1235.4 L1370.1 1233.3 L1371.7 1231.1 L1373.1 1228.7 L1374.6 1226.3 L1376.1 1223.7 L1377.5 1221.0 L1379.0 1218.3 L1380.5 1215.6 L1381.9 1213.1 L1383.3 1210.7 L1384.6 1208.5 L1386.1 1206.2 L1387.7 1203.7 L1389.4 1201.1 L1391.2 1198.5 L1392.9 1195.8 L1394.7 1193.2 L1396.4 1190.7 L1398.0 1188.3 L1399.4 1186.1 L1400.8 1184.1 L1401.9 1182.4 L1402.7 1181.0 L1391.3 1173.0 L1390.3 1174.2 L1389.1 1175.8 L1387.6 1177.7 L1386.0 1179.8 L1384.3 1182.1 L1382.4 1184.5 L1380.5 1187.1 L1378.6 1189.7 L1376.7 1192.2 L1374.8 1194.8 L1373.1 1197.2 L1371.4 1199.5 L1369.7 1202.0 L1368.0 1204.6 L1366.3 1207.2 L1364.6 1209.9 L1363.0 1212.5 L1361.4 1215.0 L1360.0 1217.3 L1358.6 1219.3 L1357.3 1221.0 L1356.3 1222.2 L1355.7 1222.8 L1356.0 1222.5 L1357.8 1221.8 L1361.2 1221.7 L1363.9 1223.0 L1365.0 1224.1 L1365.2 1224.5 L1365.0 1224.1 L1364.6 1223.3 L1364.2 1222.1 L1363.7 1220.7 L1363.1 1219.2 L1362.3 1217.4 L1361.4 1215.9 L1360.7 1214.7 L1360.0 1213.8 L1359.3 1212.7 L1358.6 1211.5 L1357.9 1210.3 L1357.1 1209.2 L1356.4 1208.0 L1355.8 1206.9 L1355.1 1205.8 L1354.6 1204.9 L1354.1 1204.1 L1353.6 1203.5 Z M1339.5 1207.0 a7.5 7.5 0 1 0 15.0 0 a7.5 7.5 0 1 0 -15.0 0 M1390.0 1177.0 a7.0 7.0 0 1 0 14.0 0 a7.0 7.0 0 1 0 -14.0 0" fill="#6E4FDE" fill-rule="nonzero"/>
<g fill="none" stroke="#6E4FDE" stroke-width="13" stroke-linecap="round" stroke-linejoin="round"><path d="M1427 1207 L1436 1245 M1432 1220 Q1440 1210 1450 1212 Q1456 1216 1458 1236 M1457 1222 Q1464 1210 1472 1212 Q1478 1218 1480 1236"/><path d="M1494 1212 Q1486 1212 1486 1224 Q1488 1236 1495 1234 Q1502 1230 1501 1220 Q1500 1211 1494 1212"/><path d="M1512 1236 Q1514 1214 1526 1212 Q1538 1212 1540 1236"/><path d="M1565 1214 Q1556 1214 1556 1225 Q1558 1235 1566 1234 Q1575 1232 1574 1222 Q1572 1213 1565 1214"/><path d="M1601 1187 L1606 1236"/><path d="M1626 1198 L1630 1199 M1628 1216 L1627 1235"/><path d="M1661 1187 L1657 1237 M1641 1215 L1676 1210"/><path d="M1692 1188 L1689 1234 M1692 1216 Q1700 1204 1708 1207 Q1715 1212 1715 1238"/><path d="M1729 1200 L1732 1200 M1731 1218 L1730 1234"/><path d="M1769 1214 Q1762 1204 1754 1210 Q1747 1222 1752 1234 Q1760 1241 1782 1228"/></g>
<g fill="none" stroke="#6E4FDE" stroke-width="13" stroke-linecap="round" stroke-linejoin="round"><path d="M967 1268 Q962 1210 931 1178"/><path d="M929 1193 L930 1173 L961 1180"/><path d="M820 1366 Q810 1360 802 1370 Q796 1386 806 1392 Q816 1394 826 1390"/><path d="M842 1356 Q830 1356 830 1370 Q832 1380 842 1378 Q852 1374 852 1362 Q850 1354 842 1356"/><path d="M862 1354 L868 1377 M864 1362 Q872 1346 885 1344"/><path d="M896 1344 L900 1366 M898 1350 Q906 1336 922 1334"/><path d="M926 1348 L944 1342 Q946 1330 936 1330 Q924 1334 924 1348 Q928 1360 946 1356"/><path d="M982 1330 Q970 1322 960 1334 Q954 1348 966 1354 Q976 1354 984 1350"/><path d="M993 1300 L1002 1340 M982 1320 L1010 1308"/><path d="M1018 1285 L1031 1327"/><path d="M1040 1300 Q1044 1320 1056 1312 Q1062 1300 1058 1286 L1070 1330 Q1068 1346 1052 1342"/><path d="M866 1410 Q852 1412 852 1426 Q854 1440 868 1437 Q880 1432 879 1420 Q876 1409 866 1410"/><path d="M888 1406 L904 1426 L915 1398"/><path d="M925 1408 L943 1402 Q947 1390 935 1390 Q921 1394 921 1408 Q925 1422 945 1418"/><path d="M951 1394 L955 1412 M953 1400 Q956 1386 968 1384"/><path d="M985 1398 L1015 1389 M1001 1413 Q996 1384 1004 1376 Q1012 1370 1020 1371"/><path d="M1032 1362 L1036 1404"/><path d="M1066 1372 Q1054 1372 1054 1386 Q1056 1396 1066 1394 Q1076 1390 1076 1378 Q1074 1370 1066 1372"/><path d="M1084 1358 Q1086 1380 1096 1378 Q1106 1372 1106 1360 Q1110 1378 1120 1372 Q1128 1362 1124 1346"/><path d="M1144 1324 Q1132 1330 1136 1340 Q1150 1342 1152 1350 Q1150 1360 1136 1356"/></g>
</svg>
</body></html>
